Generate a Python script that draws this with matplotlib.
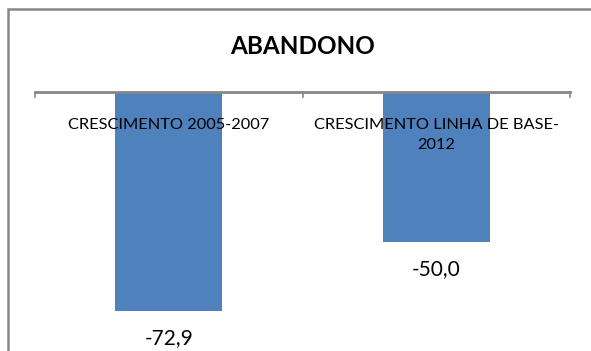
import matplotlib
matplotlib.use("Agg")
import matplotlib.pyplot as plt
from matplotlib.patches import Rectangle

# Growth in dropout ("abandono") rates
categories = ["CRESCIMENTO 2005-2007", "CRESCIMENTO LINHA DE BASE-\n2012"]
values = [-72.9, -50.0]
value_labels = ["-72,9", "-50,0"]

BAR_COLOR = "#4F81BD"
AXIS_GRAY = "#868686"

plt.rcParams["font.family"] = ["Lato", "DejaVu Sans"]

W, H, DPI = 591, 351, 100
fig = plt.figure(figsize=(W / DPI, H / DPI), dpi=DPI)

# chart frame, only left and top edges fall inside the canvas
fig.patches.append(Rectangle((8 / W, -0.1), 1.2, 1 - 9 / H + 0.1,
                             transform=fig.transFigure, fill=False,
                             edgecolor=AXIS_GRAY, linewidth=1.8))

ax_top = 92
ax = fig.add_axes([35 / W, 0, (570 - 35) / W, 1 - ax_top / H])
ax.set_xlim(-0.5, 1.5)
ax.set_ylim(-(H - ax_top) / 3.0, 0)

x = range(len(values))
ax.bar(x, values, width=0.4, color=BAR_COLOR, zorder=1)

for s in ["left", "right", "bottom"]:
    ax.spines[s].set_visible(False)
ax.spines["top"].set_color(AXIS_GRAY)
ax.spines["top"].set_linewidth(2)
ax.set_yticks([])
ax.set_xticks([])

# category tick marks hanging from the zero line
for xt in [-0.5, 0.5, 1.5]:
    ax.plot([xt, xt], [0, -1.7], color=AXIS_GRAY, linewidth=1.2,
            clip_on=False, zorder=3)

for i, cat in enumerate(categories):
    ax.text(i, -8.6, cat, ha="center", va="top", fontsize=11.8,
            linespacing=1.55, color="black", zorder=4)

for i, (v, lab) in enumerate(zip(values, value_labels)):
    ax.annotate(lab, (i, v), xytext=(0, -27), textcoords="offset pixels",
                ha="center", va="center", fontsize=15, color="black",
                annotation_clip=False)

fig.text(303 / W, 1 - 46 / H, "ABANDONO", ha="center", va="center",
         fontsize=17.5, fontweight="bold")

fig.savefig("out.png", dpi=DPI)
